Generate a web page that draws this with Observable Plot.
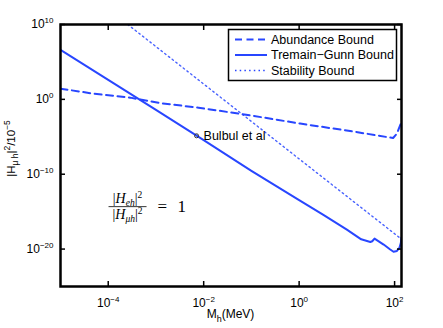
<!DOCTYPE html>
<html><head><meta charset="utf-8">
<script src="https://cdn.jsdelivr.net/npm/d3@7"></script>
<script src="https://cdn.jsdelivr.net/npm/@observablehq/plot@0.6"></script>
<style>body{margin:0;background:#fff;} svg{display:block}</style>
</head><body><div id="chart"></div>
<script>
// Abundance Bound (dashed)
const massAB  = [1e-5, 4.9e-5, 2.9e-4, 1.2e-3, 7.8e-3, 9.3e-2, 1.05, 11.7, 81, 93, 112, 139];
const boundAB = [27, 5.8, 1.7, 0.32, 7.8e-2, 7.4e-3, 5.8e-4, 5.9e-5, 7.8e-6, 6.9e-6, 2.7e-5, 9.3e-4];
// Tremain-Gunn Bound (solid)
const massTG  = [1e-5, 1e-4, 1e-3, 1e-2, 0.1, 1, 3.16, 10, 20, 31, 34, 38, 59, 81, 95, 112, 126, 135, 139];
const boundTG = [4.0e6, 4.0e2, 4.0e-2, 3.5e-6, 2.8e-10, 3.4e-14, 4.0e-16, 4.0e-18, 2.0e-19, 8.9e-20, 1.1e-19, 2.5e-19, 4.0e-20, 8.9e-21, 4.4e-21, 5.6e-21, 1.4e-20, 6.3e-20, 3.2e-19];
// Stability Bound (dotted)
const massSB  = [2.57e-4, 126];
const boundSB = [1e10, 3.5e-19];

const seriesNames = ["Abundance Bound", "Tremain\u2212Gunn Bound", "Stability Bound"];
const xTicks = [1e-4, 1e-2, 1, 1e2];
const yTicks = [1e-20, 1e-10, 1, 1e10];

const bulbulMass = [7.1e-3];
const bulbulBound = [1.35e-5];
const bulbulLabel = ["Bulbul et al"];

const mathMass = [2.6e-4];
const mathBound = [4e-15];

const color = "#2846ff";
const dashAB = "7,4.5";
const dotSB = "1.5,3.2";
const rows = (xs, ys) => xs.map((x, i) => ({x, y: ys[i]}));
const expFmt = d => "10^" + String(Math.round(Math.log10(d))).replace("-", "\u2212");
const blank = () => "";

const plot = Plot.plot({
  width: 443, height: 328,
  marginLeft: 60, marginRight: 42, marginTop: 24, marginBottom: 42,
  style: {fontFamily: "'Liberation Sans', Arial, sans-serif", fontSize: "12px", background: "#fff", color: "#000"},
  x: {type: "log", domain: [1e-5, 139.57], label: null},
  y: {type: "log", domain: [1e-25, 1e10], label: null},
  marks: [
    Plot.line(rows(massAB, boundAB), {x: "x", y: "y", stroke: color, strokeWidth: 2, strokeDasharray: dashAB, clip: true}),
    Plot.line(rows(massTG, boundTG), {x: "x", y: "y", stroke: color, strokeWidth: 2, clip: true}),
    Plot.line(rows(massSB, boundSB), {x: "x", y: "y", stroke: color, strokeWidth: 1.4, strokeDasharray: dotSB, strokeOpacity: 0.85, clip: true}),
    Plot.dot(rows(bulbulMass, bulbulBound), {x: "x", y: "y", r: 2, stroke: "#333", strokeWidth: 1, fill: "none"}),
    Plot.text(rows(bulbulMass, bulbulBound).map((d, i) => ({...d, t: bulbulLabel[i]})), {x: "x", y: "y", text: "t", textAnchor: "start", dx: 7, fontSize: 12.5, fill: "#000"}),
    Plot.frame({stroke: "#000", strokeWidth: 2.5}),
    // inward ticks
    Plot.axisX(xTicks, {anchor: "bottom", tickSize: 5, dy: -5, tickFormat: blank, label: null, stroke: "#000", strokeWidth: 1.5}),
    Plot.axisX(xTicks, {anchor: "top", tickSize: 5, dy: 5, tickFormat: blank, label: null, stroke: "#000", strokeWidth: 1.5}),
    Plot.axisY(yTicks, {anchor: "left", tickSize: 5, dx: 5, tickFormat: blank, label: null, stroke: "#000", strokeWidth: 1.5}),
    Plot.axisY(yTicks, {anchor: "right", tickSize: 5, dx: -5, tickFormat: blank, label: null, stroke: "#000", strokeWidth: 1.5}),
    // tick labels
    Plot.axisX(xTicks, {anchor: "bottom", tickSize: 0, tickPadding: 12, tickFormat: expFmt, label: null, fontSize: 12, fill: "#000"}),
    Plot.axisY(yTicks, {anchor: "left", tickSize: 0, tickPadding: 7, tickFormat: expFmt, label: null, fontSize: 12, fill: "#000"})
  ]
});

document.getElementById("chart").appendChild(plot);
const svg = d3.select(plot);

// superscript exponents in tick labels
svg.selectAll('g[aria-label="x-axis tick label"] text, g[aria-label="y-axis tick label"] text').each(function () {
  const t = this.textContent;
  if (!t || t.indexOf("^") < 0) return;
  const [b, e] = t.split("^");
  const s = d3.select(this);
  s.text(null);
  s.append("tspan").text(b);
  s.append("tspan").attr("dy", "-5").attr("font-size", "8px").text(e);
});

// axis labels
const xl = svg.append("text").attr("x", 230.5).attr("y", 318).attr("text-anchor", "middle")
  .attr("font-size", "12px").attr("fill", "#000");
xl.append("tspan").text("M");
xl.append("tspan").attr("dy", "4").attr("font-size", "9px").text("h");
xl.append("tspan").attr("dy", "-4").text("(MeV)");

const yl = svg.append("text").attr("transform", "translate(15,148.5) rotate(-90)").attr("text-anchor", "middle")
  .attr("font-size", "11.5px").attr("fill", "#000");
yl.append("tspan").text("|H");
yl.append("tspan").attr("dy", "3").attr("font-size", "8.5px").text("\u03bc h");
yl.append("tspan").attr("dy", "-3").text("|");
yl.append("tspan").attr("dy", "-5").attr("font-size", "8.5px").text("2");
yl.append("tspan").attr("dy", "5").text("/10");
yl.append("tspan").attr("dy", "-5").attr("font-size", "8.5px").text("\u22125");

// math annotation
const sx = plot.scale("x"), sy = plot.scale("y");
const cx = sx.apply(mathMass[0]), cy = sy.apply(mathBound[0]);
const mg = svg.append("g").attr("font-family", "'Liberation Serif', 'Times New Roman', serif").attr("fill", "#000");
function frac(y, sub) {
  const t = mg.append("text").attr("x", cx).attr("y", y).attr("text-anchor", "middle").attr("font-size", "14px");
  t.append("tspan").text("|");
  t.append("tspan").attr("font-style", "italic").text("H");
  t.append("tspan").attr("dy", "3").attr("font-size", "9.5px").attr("font-style", "italic").text(sub);
  t.append("tspan").attr("dy", "-3").text("|");
  t.append("tspan").attr("dy", "-5").attr("font-size", "9.5px").text("2");
}
frac(cy - 4, "eh");
frac(cy + 12, "\u03bch");
mg.append("line").attr("x1", cx - 19).attr("x2", cx + 19).attr("y1", cy).attr("y2", cy).attr("stroke", "#000").attr("stroke-width", 0.8);
mg.append("text").attr("x", cx + 30).attr("y", cy + 5).attr("text-anchor", "start").attr("font-size", "17px").text("=");
mg.append("text").attr("x", cx + 50).attr("y", cy + 5).attr("text-anchor", "start").attr("font-size", "17px").text("1");

// legend
const lg = svg.append("g").attr("transform", "translate(228.5,29.5)");
lg.append("rect").attr("width", 168).attr("height", 51).attr("fill", "#fff").attr("stroke", "#000").attr("stroke-width", 1.5);
const legStyles = [{w: 2, d: dashAB}, {w: 2, d: null}, {w: 1.4, d: dotSB}];
seriesNames.forEach((n, i) => {
  const yy = 10 + i * 15.5;
  lg.append("line").attr("x1", 6.5).attr("x2", 38.5).attr("y1", yy).attr("y2", yy)
    .attr("stroke", color).attr("stroke-width", legStyles[i].w).attr("stroke-dasharray", legStyles[i].d);
  lg.append("text").attr("x", 42.5).attr("y", yy).attr("dy", "0.35em").attr("text-anchor", "start")
    .attr("font-size", "12.5px").attr("fill", "#000").text(n);
});
</script>
</body></html>
